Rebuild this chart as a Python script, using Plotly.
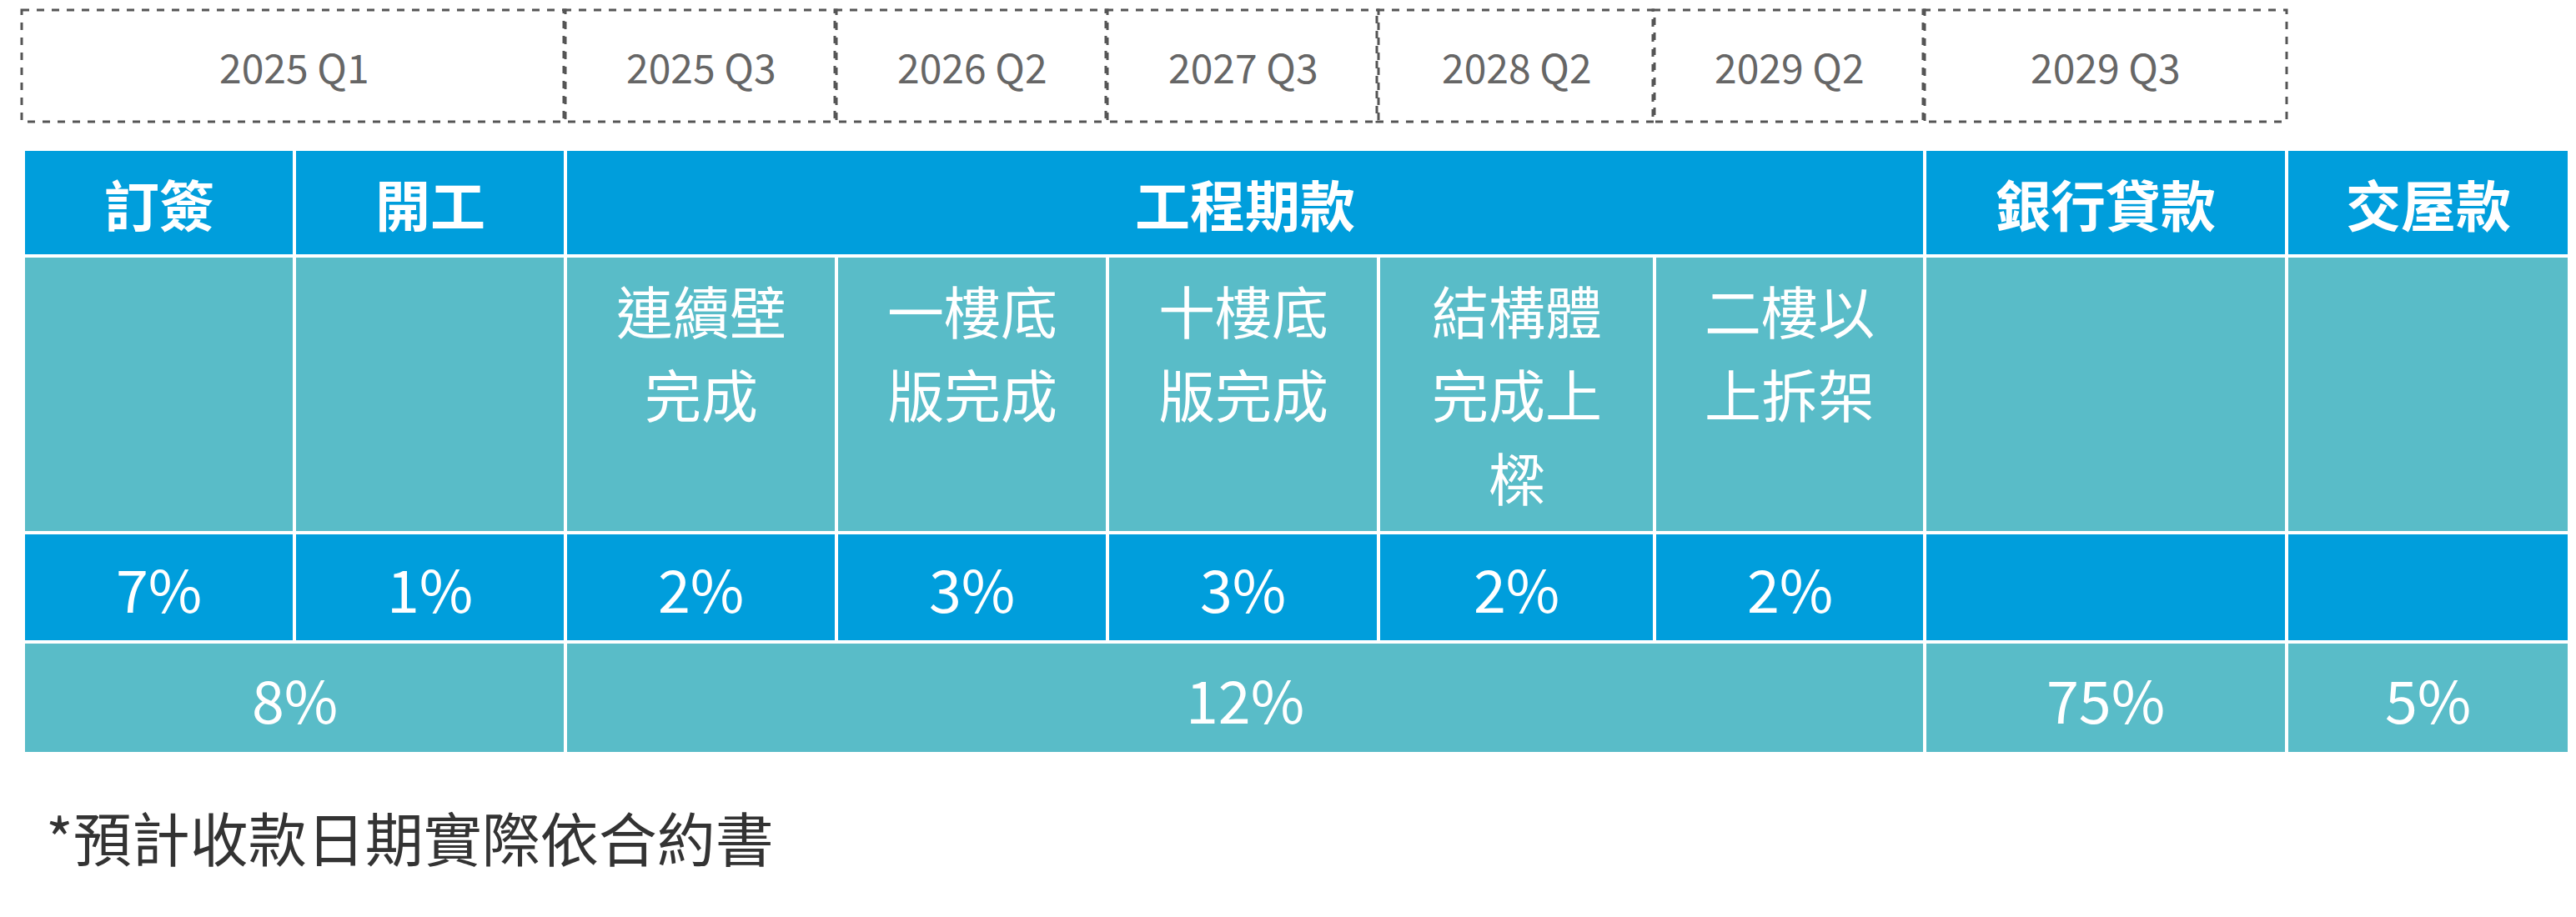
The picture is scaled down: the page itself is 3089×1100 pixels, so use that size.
import plotly.graph_objects as go

# data
quarters = ["2025 Q1", "2025 Q3", "2026 Q2", "2027 Q3", "2028 Q2", "2029 Q2", "2029 Q3"]
quarter_spans = [(0, 2), (2, 3), (3, 4), (4, 5), (5, 6), (6, 7), (7, 8)]
headers = ["訂簽", "開工", "工程期款", "銀行貸款", "交屋款"]
header_spans = [(0, 1), (1, 2), (2, 7), (7, 8), (8, 9)]
milestones = ["", "", "連續壁\n完成", "一樓底\n版完成", "十樓底\n版完成", "結構體\n完成上\n樑", "二樓以\n上拆架", "", ""]
percents = ["7%", "1%", "2%", "3%", "3%", "2%", "2%", "", ""]
totals = ["8%", "12%", "75%", "5%"]
total_spans = [(0, 2), (2, 7), (7, 8), (8, 9)]
footnote = "*預計收款日期實際依合約書"

# layout
W, H = 3089, 1100
cols = [20, 345, 670, 995, 1320, 1645, 1976, 2300, 2734, 3073]
rows = [171, 299, 631, 762, 896]
dash_top, dash_bot = 4, 138
BLUE = "#009EDC"
TEAL = "#59BCC8"
FONT = "Noto Sans CJK TC"

fig = go.Figure()
shapes, ann = [], []

def cell(x0, x1, y0, y1, color):
    shapes.append(dict(type="rect", x0=x0, x1=x1, y0=y0, y1=y1, fillcolor=color,
                       line=dict(color="white", width=4), layer="below"))

def text(x, y, t, size, color="white", bold=False):
    ann.append(dict(x=x, y=y, text=f"<b>{t}</b>" if bold else t, showarrow=False,
                    font=dict(family=FONT, size=size, color=color), xanchor="center", yanchor="middle"))

for q, (a, b) in zip(quarters, quarter_spans):
    shapes.append(dict(type="rect", x0=cols[a] - 2, x1=cols[b], y0=dash_top, y1=dash_bot,
                       line=dict(color="#555555", width=3, dash="dash")))
    text((cols[a] + cols[b]) / 2, (dash_top + dash_bot) / 2, q, 48, "#666666")

for h, (a, b) in zip(headers, header_spans):
    cell(cols[a], cols[b], rows[0], rows[1], BLUE)
    text((cols[a] + cols[b]) / 2, (rows[0] + rows[1]) / 2, h, 66, bold=True)

for i, m in enumerate(milestones):
    cell(cols[i], cols[i + 1], rows[1], rows[2], TEAL)
    for j, line in enumerate(m.split("\n") if m else []):
        text((cols[i] + cols[i + 1]) / 2, rows[1] + 64 + j * 100, line, 68)

for i, p in enumerate(percents):
    cell(cols[i], cols[i + 1], rows[2], rows[3], BLUE)
    if p:
        text((cols[i] + cols[i + 1]) / 2, (rows[2] + rows[3]) / 2, p, 70)

for t, (a, b) in zip(totals, total_spans):
    cell(cols[a], cols[b], rows[3], rows[4], TEAL)
    text((cols[a] + cols[b]) / 2, (rows[3] + rows[4]) / 2, t, 70)

ann.append(dict(x=45, y=995, text=footnote, showarrow=False, xanchor="left", yanchor="middle",
                font=dict(family=FONT, size=70, color="#333333")))

fig.update_layout(width=W, height=H, margin=dict(l=0, r=0, t=0, b=0),
                  plot_bgcolor="white", paper_bgcolor="white", shapes=shapes, annotations=ann,
                  xaxis=dict(range=[0, W], visible=False, fixedrange=True),
                  yaxis=dict(range=[H, 0], visible=False, fixedrange=True))
fig.write_html("out.html")
